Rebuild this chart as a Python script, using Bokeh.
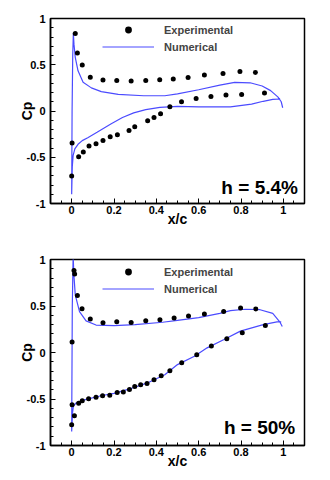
from bokeh.plotting import figure
from bokeh.models import FixedTicker, Legend, LegendItem, Label, Range1d
from bokeh.layouts import column
from bokeh.embed import file_html
from bokeh.resources import INLINE

# ---------------- data ----------------
x_ticks = [0, 0.2, 0.4, 0.6, 0.8, 1]
x_tick_labels = ["0", "0.2", "0.4", "0.6", "0.8", "1"]
y_ticks = [-1, -0.5, 0, 0.5, 1]
y_tick_labels = ["-1", "-0.5", "0", "0.5", "1"]
x_minor = [round(-0.1 + 0.05 * i, 2) for i in range(25)]
y_minor = [round(-1 + 0.1 * i, 1) for i in range(21)]

# h = 5.4 %  experimental
exp1_up_x = [0.017, 0.027, 0.05, 0.088, 0.148, 0.213, 0.281, 0.35, 0.416, 0.48, 0.55, 0.627, 0.715, 0.795, 0.868]
exp1_up_cp = [0.838, 0.626, 0.496, 0.366, 0.334, 0.33, 0.323, 0.33, 0.337, 0.345, 0.362, 0.388, 0.405, 0.427, 0.416]
exp1_lo_x = [0.0, 0.002, 0.033, 0.055, 0.082, 0.115, 0.148, 0.182, 0.216, 0.271, 0.298, 0.359, 0.389, 0.42,
             0.464, 0.519, 0.588, 0.658, 0.729, 0.803, 0.911]
exp1_lo_cp = [-0.704, -0.347, -0.495, -0.444, -0.379, -0.355, -0.319, -0.279, -0.257, -0.211, -0.171, -0.106,
              -0.07, -0.03, 0.045, 0.1, 0.135, 0.157, 0.172, 0.178, 0.194]

# h = 5.4 %  numerical (trailing edge -> leading edge -> trailing edge)
num1_up_x = [0.997, 0.99, 0.975, 0.94, 0.9, 0.843, 0.77, 0.7, 0.6, 0.5, 0.44, 0.34, 0.22, 0.14, 0.093, 0.054,
             0.03, 0.017, 0.011, 0.008, 0.005, 0.002, 0.0]
num1_up_cp = [0.035, 0.10, 0.15, 0.22, 0.27, 0.305, 0.31, 0.28, 0.23, 0.185, 0.165, 0.165, 0.18, 0.21, 0.25, 0.31,
              0.435, 0.58, 0.72, 0.84, 0.6, 0.0, -0.9]
num1_lo_x = [0.003, 0.007, 0.015, 0.03, 0.05, 0.076, 0.12, 0.185, 0.24, 0.293, 0.35, 0.417, 0.5, 0.6, 0.75,
             0.85, 0.905, 0.95, 0.985]
num1_lo_cp = [-0.6, -0.48, -0.41, -0.36, -0.32, -0.29, -0.23, -0.14, -0.07, -0.02, 0.015, 0.04, 0.05, 0.045,
              0.045, 0.075, 0.105, 0.125, 0.13]

# h = 50 %  experimental
exp2_up_x = [0.002, 0.011, 0.014, 0.027, 0.049, 0.088, 0.148, 0.213, 0.281, 0.35, 0.417, 0.484, 0.552, 0.627,
             0.718, 0.798, 0.87]
exp2_up_cp = [0.112, 0.883, 0.844, 0.614, 0.47, 0.36, 0.32, 0.33, 0.323, 0.341, 0.352, 0.37, 0.392, 0.413,
              0.441, 0.478, 0.467]
exp2_lo_x = [0.0, 0.013, 0.002, 0.033, 0.05, 0.08, 0.115, 0.146, 0.18, 0.215, 0.244, 0.273, 0.298, 0.326,
             0.356, 0.389, 0.423, 0.464, 0.52, 0.591, 0.66, 0.733, 0.806, 0.915]
exp2_lo_cp = [-0.778, -0.681, -0.563, -0.545, -0.52, -0.498, -0.48, -0.466, -0.459, -0.431, -0.426, -0.398,
              -0.366, -0.348, -0.334, -0.294, -0.251, -0.197, -0.111, -0.025, 0.069, 0.147, 0.212, 0.291]

# h = 50 %  numerical
num2_up_x = [0.995, 0.983, 0.95, 0.89, 0.82, 0.75, 0.7, 0.6, 0.5, 0.43, 0.3, 0.2, 0.115, 0.068, 0.037, 0.017,
             0.01, 0.007, 0.003, 0.0]
num2_up_cp = [0.28, 0.33, 0.42, 0.46, 0.465, 0.45, 0.42, 0.375, 0.345, 0.325, 0.30, 0.29, 0.295, 0.34, 0.44,
              0.62, 0.85, 1.05, 0.5, -0.85]
num2_lo_x = [0.004, 0.008, 0.022, 0.06, 0.138, 0.2, 0.262, 0.355, 0.44, 0.5, 0.58, 0.64, 0.72, 0.797, 0.905,
             0.97, 0.99]
num2_lo_cp = [-0.65, -0.58, -0.54, -0.51, -0.465, -0.44, -0.40, -0.33, -0.24, -0.13, -0.04, 0.05, 0.14, 0.23,
              0.30, 0.33, 0.33]

FONT = "Liberation Sans"
BLUE = "#4b4bff"


def make_panel(height, top, bottom, ex, ey, nx, ny, tag, tag_x, tag_y, leg_y):
    p = figure(width=322, height=height, x_range=Range1d(-0.1, 1.1), y_range=Range1d(-1, 1),
               output_backend="svg", toolbar_location=None,
               min_border_left=50, min_border_right=18, min_border_top=top, min_border_bottom=bottom)
    p.grid.visible = False
    p.outline_line_color = "black"
    p.outline_line_width = 1.5
    p.background_fill_color = "white"

    p.xaxis.ticker = FixedTicker(ticks=x_ticks, minor_ticks=x_minor)
    p.yaxis.ticker = FixedTicker(ticks=y_ticks, minor_ticks=y_minor)
    p.xaxis.major_label_overrides = {t: s for t, s in zip(x_ticks, x_tick_labels)}
    p.yaxis.major_label_overrides = {t: s for t, s in zip(y_ticks, y_tick_labels)}
    for ax in (p.xaxis[0], p.yaxis[0]):
        ax.major_tick_in = 5
        ax.major_tick_out = 0
        ax.minor_tick_in = 3
        ax.minor_tick_out = 0
        ax.axis_line_width = 1.5
        ax.major_tick_line_width = 1
        ax.minor_tick_line_width = 1
        ax.major_label_text_font = FONT
        ax.major_label_text_font_style = "bold"
        ax.major_label_text_font_size = "11px"
        ax.major_label_text_color = "black"
        ax.axis_label_text_font = FONT
        ax.axis_label_text_font_style = "bold"
        ax.axis_label_text_font_size = "14px"
        ax.axis_label_text_color = "black"
    p.xaxis.axis_label = "x/c"
    p.yaxis.axis_label = "Cp"
    p.xaxis.major_label_standoff = 2
    p.yaxis.major_label_standoff = 5
    p.xaxis.axis_label_standoff = -6
    p.yaxis.axis_label_standoff = -11

    r_line = p.line(nx, ny, line_color=BLUE, line_width=1.2)
    r_dots = p.scatter(ex, ey, size=5, color="black", line_width=0)

    legend = Legend(items=[LegendItem(label="Experimental", renderers=[r_dots]),
                           LegendItem(label="Numerical", renderers=[r_line])],
                    location=(52, leg_y), glyph_width=52, glyph_height=17, label_height=17,
                    spacing=0, padding=0, margin=0, label_standoff=10,
                    border_line_alpha=0, background_fill_alpha=0,
                    label_text_font=FONT, label_text_font_style="bold", label_text_font_size="11px")
    p.add_layout(legend)

    p.add_layout(Label(x=tag_x, y=tag_y, text=tag, text_align="right", text_baseline="alphabetic",
                       text_font=FONT, text_font_style="bold", text_font_size="19px", text_color="black"))
    return p


p1 = make_panel(236, 18, 33,
                exp1_up_x + exp1_lo_x, exp1_up_cp + exp1_lo_cp,
                num1_up_x + num1_lo_x, num1_up_cp + num1_lo_cp,
                "h = 5.4%", 1.069, -0.827, 148)
p2 = make_panel(236, 23, 27,
                exp2_up_x + exp2_lo_x, exp2_up_cp + exp2_lo_cp,
                num2_up_x + num2_lo_x, num2_up_cp + num2_lo_cp,
                "h = 50%", 1.056, -0.81, 148)

layout = column(p1, p2, spacing=0)
open("out.html", "w").write(file_html(layout, INLINE))
